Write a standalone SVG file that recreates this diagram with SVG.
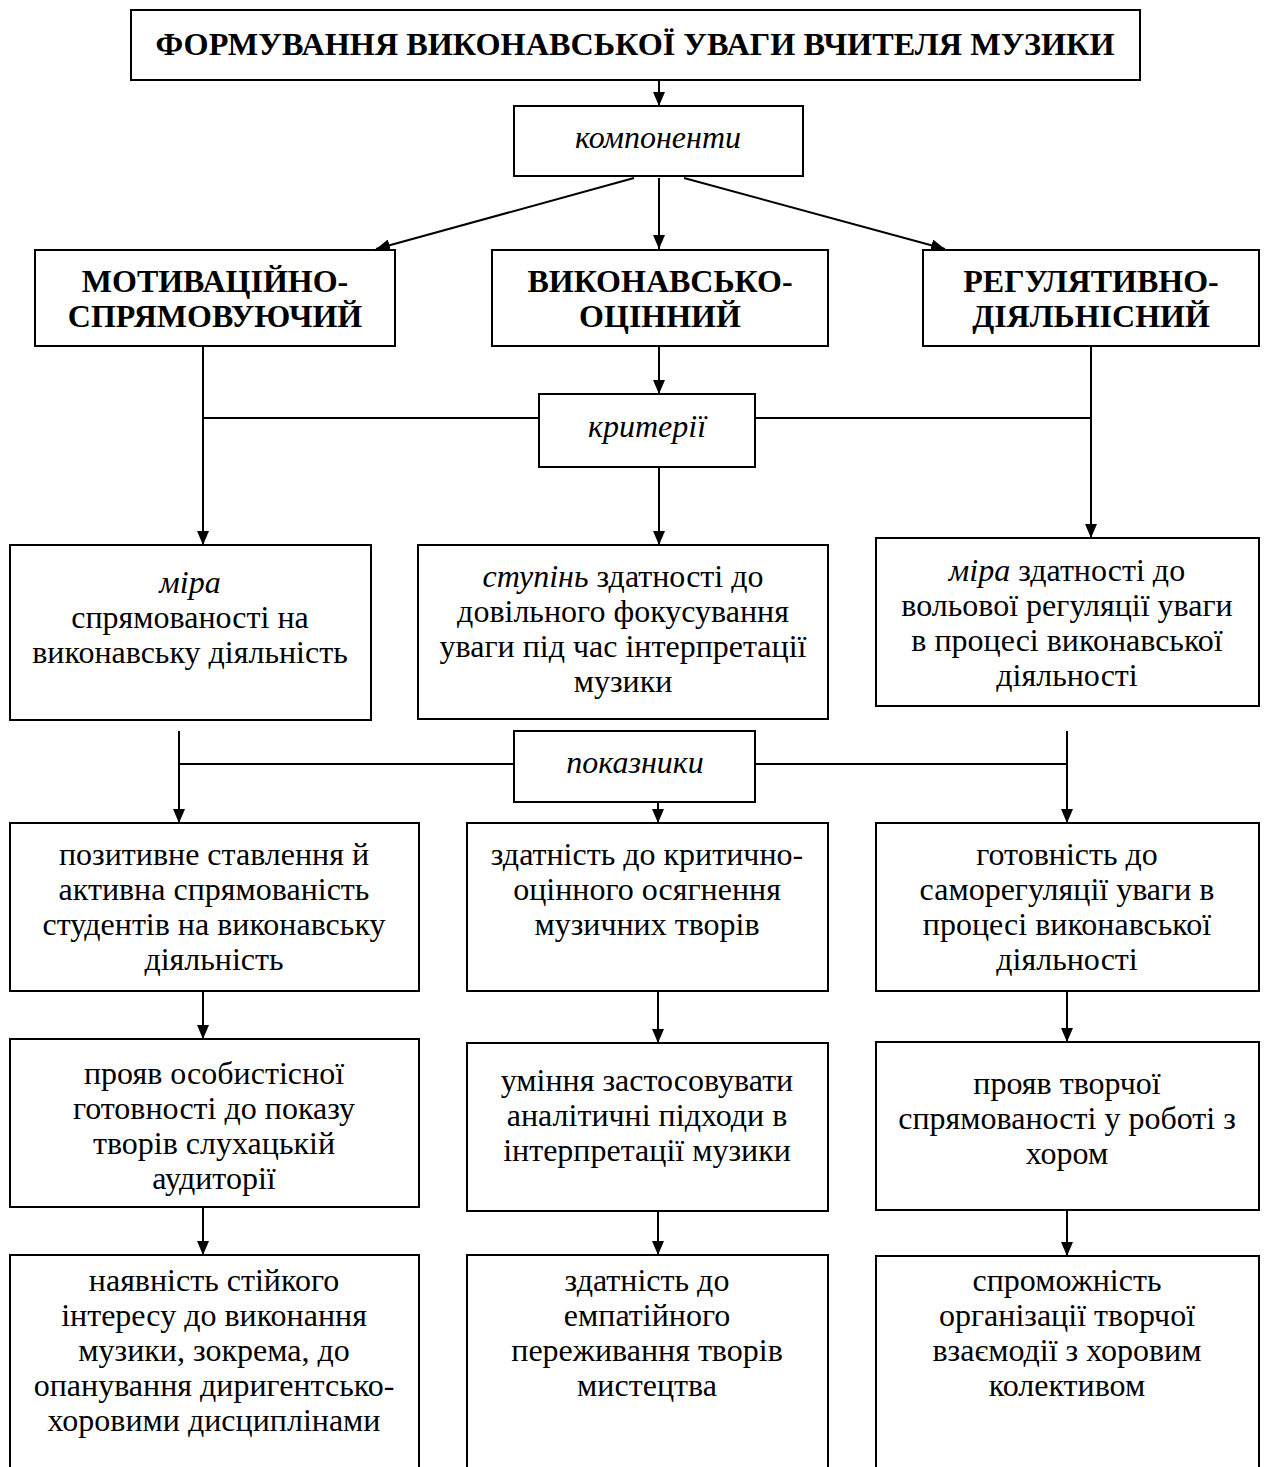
<svg xmlns="http://www.w3.org/2000/svg" width="1267" height="1467" viewBox="0 0 1267 1467">
  <defs>
    <marker id="arrow" markerUnits="userSpaceOnUse" markerWidth="14" markerHeight="12" refX="14" refY="6" orient="auto">
      <path d="M0,0 L14,6 L0,12 z" fill="#000"/>
    </marker>
    <style>
      .box { fill: #fff; stroke: #000; stroke-width: 2; }
      .open { fill: none; stroke: #000; stroke-width: 2; }
      .ln { fill: none; stroke: #000; stroke-width: 2; }
      .arr { fill: none; stroke: #000; stroke-width: 2; marker-end: url(#arrow); }
      text { font-family: "Liberation Serif", "Times New Roman", serif; fill: #000; text-anchor: middle; }
      .t { font-size: 32px; }
      .it { font-style: italic; }
      .head { font-size: 32px; font-weight: bold; }
      .comp { font-size: 32px; font-weight: bold; }
    </style>
  </defs>
  <rect width="1267" height="1467" fill="#fff"/>

  <!-- connectors -->
  <g id="connectors">
    <line class="arr" x1="659" y1="80" x2="659" y2="106"/>
    <line class="arr" x1="634" y1="178" x2="376" y2="249"/>
    <line class="arr" x1="659" y1="178" x2="659" y2="249"/>
    <line class="arr" x1="684" y1="178" x2="945" y2="249"/>

    <!-- criteria level -->
    <line class="arr" x1="203" y1="346" x2="203" y2="545"/>
    <line class="ln" x1="203" y1="418" x2="539" y2="418"/>
    <line class="arr" x1="659" y1="346" x2="659" y2="394"/>
    <line class="arr" x1="659" y1="467" x2="659" y2="545"/>
    <line class="ln" x1="755" y1="418" x2="1091" y2="418"/>
    <line class="arr" x1="1091" y1="346" x2="1091" y2="538"/>

    <!-- indicators level -->
    <line class="arr" x1="179" y1="731" x2="179" y2="823"/>
    <line class="ln" x1="179" y1="764" x2="514" y2="764"/>
    <line class="arr" x1="658" y1="802" x2="658" y2="823"/>
    <line class="ln" x1="755" y1="764" x2="1067" y2="764"/>
    <line class="arr" x1="1067" y1="731" x2="1067" y2="823"/>

    <!-- row 4 to row 5 -->
    <line class="arr" x1="203" y1="991" x2="203" y2="1039"/>
    <line class="arr" x1="658" y1="991" x2="658" y2="1043"/>
    <line class="arr" x1="1067" y1="991" x2="1067" y2="1042"/>

    <!-- row 5 to row 6 -->
    <line class="arr" x1="203" y1="1207" x2="203" y2="1255"/>
    <line class="arr" x1="658" y1="1211" x2="658" y2="1255"/>
    <line class="arr" x1="1067" y1="1210" x2="1067" y2="1256"/>
  </g>

  <!-- title -->
  <g id="title">
    <rect class="box" x="131" y="10" width="1009" height="70"/>
    <text class="head" x="635" y="55" textLength="959" lengthAdjust="spacingAndGlyphs">ФОРМУВАННЯ ВИКОНАВСЬКОЇ УВАГИ ВЧИТЕЛЯ МУЗИКИ</text>
  </g>

  <g id="components">
    <rect class="box" x="514" y="106" width="289" height="70"/>
    <text class="t it" x="658" y="148">компоненти</text>
  </g>

  <!-- components -->
  <g id="motivational">
    <rect class="box" x="35" y="250" width="360" height="96"/>
    <text class="comp" x="215" y="292">МОТИВАЦІЙНО-</text>
    <text class="comp" x="215" y="327">СПРЯМОВУЮЧИЙ</text>
  </g>
  <g id="performing">
    <rect class="box" x="492" y="250" width="336" height="96"/>
    <text class="comp" x="660" y="292">ВИКОНАВСЬКО-</text>
    <text class="comp" x="660" y="327">ОЦІННИЙ</text>
  </g>
  <g id="regulative">
    <rect class="box" x="923" y="250" width="336" height="96"/>
    <text class="comp" x="1091" y="292">РЕГУЛЯТИВНО-</text>
    <text class="comp" x="1091" y="327">ДІЯЛЬНІСНИЙ</text>
  </g>

  <g id="criteria">
    <rect class="box" x="539" y="394" width="216" height="73"/>
    <text class="t it" x="647" y="437">критерії</text>
  </g>

  <!-- criteria -->
  <g id="crit-left">
    <rect class="box" x="10" y="545" width="361" height="175"/>
    <text class="t" x="190" y="593"><tspan class="it">міра</tspan></text>
    <text class="t" x="190" y="628">спрямованості на</text>
    <text class="t" x="190" y="663">виконавську діяльність</text>
  </g>
  <g id="crit-middle">
    <rect class="box" x="418" y="545" width="410" height="174"/>
    <text class="t" x="623" y="587"><tspan class="it">ступінь</tspan> здатності до</text>
    <text class="t" x="623" y="622">довільного фокусування</text>
    <text class="t" x="623" y="657">уваги під час інтерпретації</text>
    <text class="t" x="623" y="692">музики</text>
  </g>
  <g id="crit-right">
    <rect class="box" x="876" y="538" width="383" height="168"/>
    <text class="t" x="1067" y="581"><tspan class="it">міра</tspan> здатності до</text>
    <text class="t" x="1067" y="616">вольової регуляції уваги</text>
    <text class="t" x="1067" y="651">в процесі виконавської</text>
    <text class="t" x="1067" y="686">діяльності</text>
  </g>

  <g id="indicators">
    <rect class="box" x="514" y="731" width="241" height="71"/>
    <text class="t it" x="635" y="773">показники</text>
  </g>

  <!-- indicators, first row -->
  <g id="ind-left-1">
    <rect class="box" x="10" y="823" width="409" height="168"/>
    <text class="t" x="214" y="865">позитивне ставлення й</text>
    <text class="t" x="214" y="900">активна спрямованість</text>
    <text class="t" x="214" y="935">студентів на виконавську</text>
    <text class="t" x="214" y="970">діяльність</text>
  </g>
  <g id="ind-middle-1">
    <rect class="box" x="467" y="823" width="361" height="168"/>
    <text class="t" x="647" y="865">здатність до критично-</text>
    <text class="t" x="647" y="900">оцінного осягнення</text>
    <text class="t" x="647" y="935">музичних творів</text>
  </g>
  <g id="ind-right-1">
    <rect class="box" x="876" y="823" width="383" height="168"/>
    <text class="t" x="1067" y="865">готовність до</text>
    <text class="t" x="1067" y="900">саморегуляції уваги в</text>
    <text class="t" x="1067" y="935">процесі виконавської</text>
    <text class="t" x="1067" y="970">діяльності</text>
  </g>

  <!-- indicators, second row -->
  <g id="ind-left-2">
    <rect class="box" x="10" y="1039" width="409" height="168"/>
    <text class="t" x="214" y="1084">прояв особистісної</text>
    <text class="t" x="214" y="1119">готовності до показу</text>
    <text class="t" x="214" y="1154">творів слухацькій</text>
    <text class="t" x="214" y="1189">аудиторії</text>
  </g>
  <g id="ind-middle-2">
    <rect class="box" x="467" y="1043" width="361" height="168"/>
    <text class="t" x="647" y="1091">уміння застосовувати</text>
    <text class="t" x="647" y="1126">аналітичні підходи в</text>
    <text class="t" x="647" y="1161">інтерпретації музики</text>
  </g>
  <g id="ind-right-2">
    <rect class="box" x="876" y="1042" width="383" height="168"/>
    <text class="t" x="1067" y="1094">прояв творчої</text>
    <text class="t" x="1067" y="1129">спрямованості у роботі з</text>
    <text class="t" x="1067" y="1164">хором</text>
  </g>

  <!-- indicators, third row (open at the bottom) -->
  <g id="ind-left-3">
    <path class="open" d="M10,1470 V1255 H419 V1470"/>
    <text class="t" x="214" y="1291">наявність стійкого</text>
    <text class="t" x="214" y="1326">інтересу до виконання</text>
    <text class="t" x="214" y="1361">музики, зокрема, до</text>
    <text class="t" x="214" y="1396">опанування диригентсько-</text>
    <text class="t" x="214" y="1431">хоровими дисциплінами</text>
  </g>
  <g id="ind-middle-3">
    <path class="open" d="M467,1470 V1255 H828 V1470"/>
    <text class="t" x="647" y="1291">здатність до</text>
    <text class="t" x="647" y="1326">емпатійного</text>
    <text class="t" x="647" y="1361">переживання творів</text>
    <text class="t" x="647" y="1396">мистецтва</text>
  </g>
  <g id="ind-right-3">
    <path class="open" d="M876,1470 V1256 H1259 V1470"/>
    <text class="t" x="1067" y="1291">спроможність</text>
    <text class="t" x="1067" y="1326">організації творчої</text>
    <text class="t" x="1067" y="1361">взаємодії з хоровим</text>
    <text class="t" x="1067" y="1396">колективом</text>
  </g>
</svg>
